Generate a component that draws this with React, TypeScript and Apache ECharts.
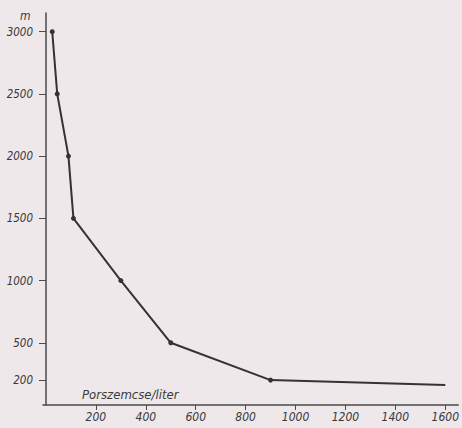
import React, { useEffect, useRef } from "react";
import * as echarts from "echarts";

const particles = [25, 45, 90, 110, 300, 500, 900, 1600];
const heights = [3000, 2500, 2000, 1500, 1000, 500, 200, 160];
const xTicks = [200, 400, 600, 800, 1000, 1200, 1400, 1600];
const yTicks = [200, 500, 1000, 1500, 2000, 2500, 3000];
const xTitle = "Porszemcse/liter";
const yTitle = "m";

const FONT = "'DejaVu Sans Condensed', 'DejaVu Sans', sans-serif";
const INK = "#3a3a3a";

export default function App() {
  const ref = useRef<HTMLDivElement>(null);
  useEffect(() => {
    if (!ref.current) return;
    const chart = echarts.init(ref.current, null, { renderer: "svg" });
    const data = particles.map((x, i) => ({
      value: [x, heights[i]],
      symbol: i === particles.length - 1 ? "none" : "circle",
    }));
    const fmt = (v: number) => String(v);
    chart.setOption({
      animation: false,
      backgroundColor: "#eee8eb",
      grid: { left: 43, right: 0, top: 13, bottom: 23 },
      xAxis: {
        type: "value",
        min: -12,
        max: 1652,
        splitLine: { show: false },
        axisLine: { lineStyle: { color: "#4a4a4a", width: 1.5 } },
        axisTick: {
          customValues: xTicks,
          length: 5,
          lineStyle: { color: "#4a4a4a", width: 1 },
        },
        axisLabel: {
          customValues: xTicks,
          formatter: fmt,
          margin: 6,
          color: INK,
          fontSize: 12,
          fontStyle: "italic",
          fontFamily: FONT,
        },
      },
      yAxis: {
        type: "value",
        min: 0,
        max: 3150,
        splitLine: { show: false },
        axisLine: { lineStyle: { color: "#4a4a4a", width: 1.5 } },
        axisTick: {
          customValues: yTicks,
          length: 7,
          lineStyle: { color: "#4a4a4a", width: 1 },
        },
        axisLabel: {
          customValues: yTicks,
          formatter: fmt,
          margin: 10,
          color: INK,
          fontSize: 11.5,
          fontStyle: "italic",
          fontFamily: FONT,
        },
      },
      graphic: [
        {
          type: "text",
          left: 82,
          top: 388,
          style: {
            text: xTitle,
            fill: INK,
            font: `italic 13px ${FONT}`,
          },
        },
        {
          type: "text",
          left: 20,
          top: 10,
          style: {
            text: yTitle,
            fill: INK,
            font: `italic 12px ${FONT}`,
          },
        },
      ],
      series: [
        {
          type: "line",
          data,
          symbolSize: 5,
          itemStyle: { color: "#333" },
          lineStyle: { color: "#333", width: 2 },
        },
      ],
    });
    return () => chart.dispose();
  }, []);
  return (
    <div
      ref={ref}
      style={{ position: "fixed", left: 0, top: 0, width: 462, height: 428 }}
    />
  );
}
